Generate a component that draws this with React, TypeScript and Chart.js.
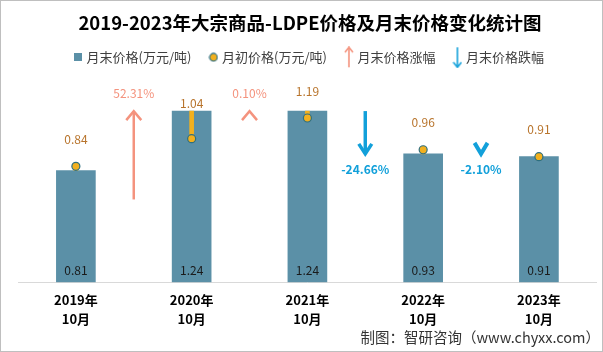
import React, { useEffect, useRef } from "react";
import { Chart, registerables } from "chart.js";
Chart.register(...registerables);

const categories = [["2019年", "10月"], ["2020年", "10月"], ["2021年", "10月"], ["2022年", "10月"], ["2023年", "10月"]];
const endPrices = [0.81, 1.24, 1.24, 0.93, 0.91];
const startPrices = [0.84, 1.04, 1.19, 0.96, 0.91];
const changePct = [52.31, 0.1, -24.66, -2.1];
const arrowTail = [0.6, 1.24, 1.24, 0.93];
const arrowHead = [1.24, 1.24, 0.93, 0.93];

const TITLE = "2019-2023年大宗商品-LDPE价格及月末价格变化统计图";
const SOURCE = "制图：智研咨询（www.chyxx.com）";
const FONT = '"Noto Sans CJK SC", "Noto Sans", sans-serif';

const BAR = "#5B90A7";
const GOLD = "#F2B01E";
const TEAL = "#2D6F80";
const UP = "#F4937E";
const DOWN = "#12A0DA";

function drawArrow(ctx: CanvasRenderingContext2D, x: number, yT: number, yH: number, color: string, lw: number, hw: number, hh: number, dir: number) {
  ctx.save();
  ctx.strokeStyle = color;
  ctx.lineWidth = lw;
  ctx.lineCap = "butt";
  ctx.lineJoin = "miter";
  if (Math.abs(yH - yT) > 0.5) {
    ctx.beginPath();
    ctx.moveTo(x, yT);
    ctx.lineTo(x, yH);
    ctx.stroke();
  }
  ctx.beginPath();
  ctx.moveTo(x - hw, yH - dir * hh);
  ctx.lineTo(x, yH);
  ctx.lineTo(x + hw, yH - dir * hh);
  ctx.stroke();
  ctx.restore();
}

function makeIcon(kind: string): HTMLCanvasElement {
  const c = document.createElement("canvas");
  const ctx = c.getContext("2d")!;
  if (kind === "rect") {
    c.width = 8; c.height = 8;
    ctx.fillStyle = BAR; ctx.fillRect(0, 0, 8, 8);
  } else if (kind === "dot") {
    c.width = 10; c.height = 10;
    ctx.beginPath(); ctx.arc(5, 5, 3.8, 0, Math.PI * 2);
    ctx.fillStyle = GOLD; ctx.fill();
    ctx.lineWidth = 1.2; ctx.strokeStyle = TEAL; ctx.stroke();
  } else if (kind === "up") {
    c.width = 10; c.height = 22;
    drawArrow(ctx, 5, 21, 1, UP, 1.6, 4, 5, -1);
  } else {
    c.width = 10; c.height = 22;
    drawArrow(ctx, 5, 1, 21, DOWN, 1.6, 4, 5, 1);
  }
  return c;
}

const labelsPlugin = {
  id: "customLabels",
  afterDatasetsDraw(chart: any) {
    const ctx: CanvasRenderingContext2D = chart.ctx;
    const y = chart.scales.y;
    const barMeta = chart.getDatasetMeta(0);
    const dotMeta = chart.getDatasetMeta(2);
    ctx.save();
    ctx.textAlign = "center";
    ctx.textBaseline = "middle";
    ctx.font = `12px ${FONT}`;
    ctx.fillStyle = "#1a1a1a";
    barMeta.data.forEach((el: any, i: number) => {
      ctx.fillText(endPrices[i].toFixed(2), el.x, y.getPixelForValue(0) - 12);
    });
    ctx.fillStyle = "#B8742C";
    dotMeta.data.forEach((el: any, i: number) => {
      const barTop = barMeta.data[i].y;
      ctx.fillText(startPrices[i].toFixed(2), el.x, Math.min(el.y - 27, barTop - 8));
    });
    changePct.forEach((v, i) => {
      const x = (barMeta.data[i].x + barMeta.data[i + 1].x) / 2;
      const yT = y.getPixelForValue(arrowTail[i]);
      const yH = y.getPixelForValue(arrowHead[i]);
      const big = Math.abs(yH - yT) > 0.5;
      if (v >= 0) {
        drawArrow(ctx, x, yT, yH, UP, 2.5, 7.5, 9, -1);
        ctx.font = `12px ${FONT}`;
        ctx.fillStyle = UP;
        ctx.fillText(v.toFixed(2) + "%", x, yH - 18);
      } else {
        drawArrow(ctx, x, yT, yH, DOWN, big ? 3.5 : 4, 6.5, big ? 10 : 11, 1);
        ctx.font = `bold 12px ${FONT}`;
        ctx.fillStyle = DOWN;
        ctx.fillText(v.toFixed(2) + "%", x, yH + 16);
      }
    });
    ctx.font = `14.5px ${FONT}`;
    ctx.fillStyle = "#333333";
    ctx.textAlign = "right";
    ctx.fillText(SOURCE, 599, 336);
    ctx.restore();
  },
};

export default function App() {
  const ref = useRef<HTMLCanvasElement>(null);
  useEffect(() => {
    Chart.defaults.font.family = FONT;
    const icons = [makeIcon("rect"), makeIcon("dot"), makeIcon("up"), makeIcon("down")];
    const legendTexts = ["月末价格(万元/吨)", "月初价格(万元/吨)", "月末价格涨幅", "月末价格跌幅"];
    const chart = new Chart(ref.current!, {
      type: "bar",
      data: {
        labels: categories,
        datasets: [
          {
            type: "bar",
            label: "月末价格(万元/吨)",
            data: endPrices,
            backgroundColor: BAR,
            barThickness: 39,
            grouped: false,
            order: 3,
          } as any,
          {
            type: "bar",
            label: "连接线",
            data: startPrices.map((s, i) => [s, endPrices[i]]),
            backgroundColor: GOLD,
            barThickness: 4,
            grouped: false,
            order: 2,
          } as any,
          {
            type: "line",
            label: "月初价格(万元/吨)",
            data: startPrices,
            showLine: false,
            pointRadius: 4,
            pointBackgroundColor: GOLD,
            pointBorderColor: TEAL,
            pointBorderWidth: 1.2,
            order: 1,
          } as any,
        ],
      },
      options: {
        responsive: false,
        maintainAspectRatio: false,
        animation: false,
        layout: { padding: { left: 17, right: 0, top: 0, bottom: 15 } },
        plugins: {
          title: {
            display: true,
            text: TITLE,
            color: "#000",
            font: { size: 18.5, weight: "bold", family: FONT, lineHeight: 0.8 },
            padding: { top: 15, bottom: 0 },
          },
          legend: {
            display: true,
            onClick: () => {},
            labels: {
              usePointStyle: true,
              boxWidth: 4,
              boxHeight: 8,
              padding: 20,
              color: "#404040",
              font: { size: 13, family: FONT },
              generateLabels: () =>
                legendTexts.map((t, i) => ({
                  text: t,
                  pointStyle: icons[i],
                  fillStyle: "transparent",
                  strokeStyle: "transparent",
                  lineWidth: 0,
                  hidden: false,
                  datasetIndex: i,
                  fontColor: "#404040",
                })) as any,
            },
          },
          tooltip: { enabled: false },
        },
        scales: {
          x: {
            offset: true,
            grid: { display: false, drawTicks: false },
            border: { display: true, color: "#D9D9D9", width: 1 },
            ticks: {
              color: "#000",
              padding: 8,
              font: { size: 13, weight: "bold", family: FONT, lineHeight: 1.45 },
              maxRotation: 0,
              autoSkip: false,
            },
          },
          y: {
            display: false,
            min: 0,
            max: 1.51,
          },
        },
      },
      plugins: [labelsPlugin],
    });
    return () => chart.destroy();
  }, []);
  return (
    <div
      style={{
        position: "absolute",
        left: 0,
        top: 0,
        width: 603,
        height: 352,
        border: "1px solid #BFBFBF",
        boxSizing: "border-box",
        background: "#fff",
      }}
    >
      <canvas ref={ref} width={601} height={350} style={{ display: "block" }} />
    </div>
  );
}
